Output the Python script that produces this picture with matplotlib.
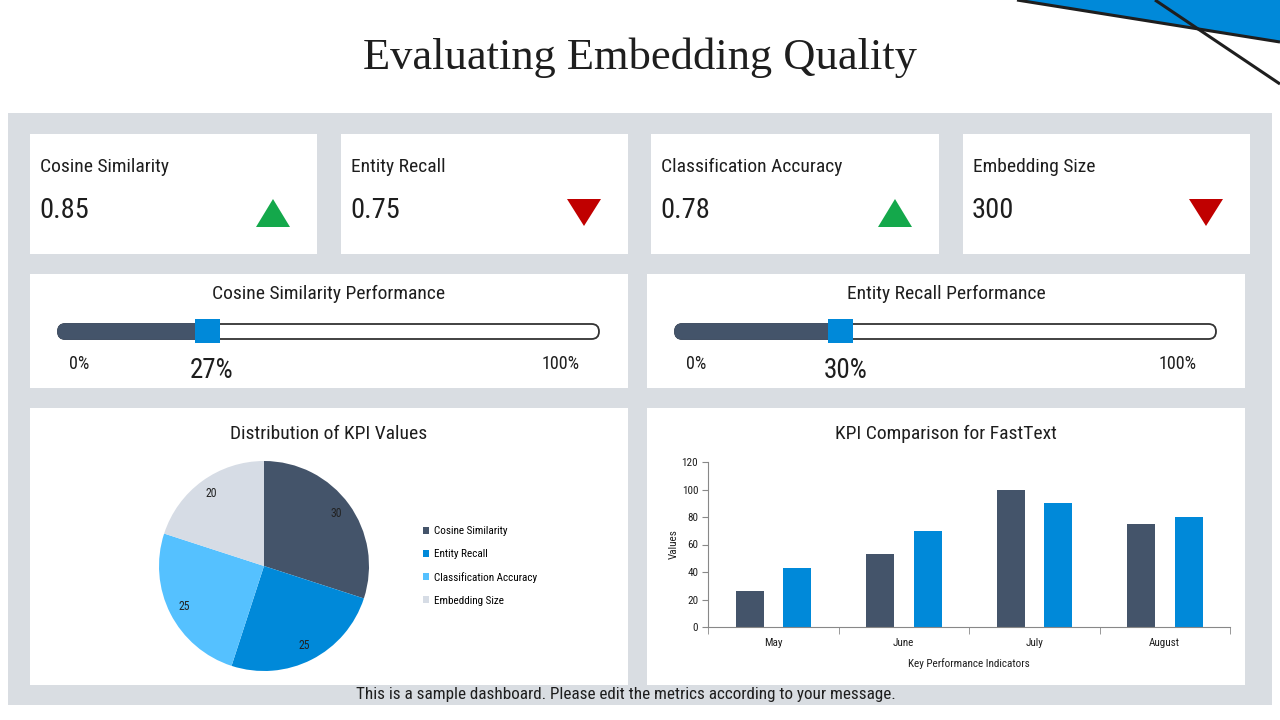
import matplotlib
matplotlib.use("Agg")
import matplotlib.pyplot as plt
from matplotlib import font_manager
from matplotlib.patches import Rectangle, FancyBboxPatch, Polygon
import numpy as np

# ---------------- data ----------------
title = "Evaluating Embedding Quality"
kpi_names = ["Cosine Similarity", "Entity Recall", "Classification Accuracy", "Embedding Size"]
kpi_values = ["0.85", "0.75", "0.78", "300"]
kpi_trend = ["up", "down", "up", "down"]

slider_titles = ["Cosine Similarity Performance", "Entity Recall Performance"]
slider_values = [27, 30]

pie_title = "Distribution of KPI Values"
pie_labels = ["Cosine Similarity", "Entity Recall", "Classification Accuracy", "Embedding Size"]
pie_values = [30, 25, 25, 20]

bar_title = "KPI Comparison for FastText"
bar_months = ["May", "June", "July", "August"]
bar_series_a = [26, 53, 100, 75]
bar_series_b = [43, 70, 90, 80]
bar_yticks = [0, 20, 40, 60, 80, 100, 120]
bar_xlabel = "Key Performance Indicators"
bar_ylabel = "Values"

footer = "This is a sample dashboard. Please edit the metrics according to your message."

# ---------------- style ----------------
DARK = "#44546A"
BLUE = "#0089D9"
LBLUE = "#55C1FF"
LGRAY = "#D6DCE5"
PANEL = "#D9DDE2"
GREEN = "#14A84B"
RED = "#C00000"
TXT = "#1E1E1E"

available = {f.name for f in font_manager.fontManager.ttflist}
SANS = None
for cand in ["Roboto Condensed", "Liberation Sans Narrow", "Open Sans Condensed", "DejaVu Sans Condensed", "Roboto", "DejaVu Sans"]:
    if cand in available:
        SANS = cand
        break
SERIF = "Liberation Serif" if "Liberation Serif" in available else "DejaVu Serif"
plt.rcParams['font.family'] = [SANS, 'DejaVu Sans']

W, H = 1280, 720
fig = plt.figure(figsize=(12.8, 7.2), dpi=100)
fig.patch.set_facecolor("white")
bg = fig.add_axes([0, 0, 1, 1])
bg.set_xlim(0, W)
bg.set_ylim(H, 0)
bg.axis("off")
bg.set_zorder(0)

def ax_at(x0, y0, x1, y1):
    return fig.add_axes([x0 / W, 1 - y1 / H, (x1 - x0) / W, (y1 - y0) / H])

# top-right decoration
bg.add_patch(Polygon([(1017, 0), (1280, 0), (1280, 42)], closed=True, facecolor=BLUE, edgecolor="none"))
bg.plot([1017, 1280], [0, 42], color="#1E1E1E", lw=2.2, solid_capstyle="butt")
bg.plot([1155, 1280], [0, 84], color="#1E1E1E", lw=2.2, solid_capstyle="butt")

# title
bg.text(640, 58, title, fontsize=32, family=SERIF, color=TXT, ha="center", va="center")

# big grey panel
bg.add_patch(Rectangle((8, 113), 1264, 592, facecolor=PANEL, edgecolor="none"))

# KPI cards
card_x = [(30, 317), (341, 628), (651, 939), (963, 1250)]
for (x0, x1), name, val, tr in zip(card_x, kpi_names, kpi_values, kpi_trend):
    bg.add_patch(Rectangle((x0, 134), x1 - x0, 120, facecolor="white", edgecolor="none"))
    bg.text(x0 + 10, 167, name, fontsize=14, color=TXT, ha="left", va="center")
    bg.text(x0 + 9, 211, val, fontsize=20.5, color=TXT, ha="left", va="center")
    cx = x1 - 44
    if tr == "up":
        tri = [(cx - 17, 227), (cx + 17, 227), (cx, 199)]
        col = GREEN
    else:
        tri = [(cx - 17, 199), (cx + 17, 199), (cx, 226)]
        col = RED
    bg.add_patch(Polygon(tri, closed=True, facecolor=col, edgecolor="none"))

# slider panels
slider_panels = [(30, 628), (647, 1245)]
for (x0, x1), stitle, sval in zip(slider_panels, slider_titles, slider_values):
    bg.add_patch(Rectangle((x0, 274), x1 - x0, 114, facecolor="white", edgecolor="none"))
    cx = (x0 + x1) / 2
    bg.text(cx, 294, stitle, fontsize=14, color=TXT, ha="center", va="center")
    tx0, tx1 = x0 + 28, x1 - 29
    ty, th = 324, 15
    bg.add_patch(FancyBboxPatch((tx0, ty), tx1 - tx0, th,
                                boxstyle="round,pad=0,rounding_size=7.5",
                                facecolor="white", edgecolor="#333333", lw=1.3, zorder=2))
    kx = tx0 + 3 + (tx1 - tx0) * sval / 100.0
    bg.add_patch(FancyBboxPatch((tx0, ty), kx - tx0, th,
                                boxstyle="round,pad=0,rounding_size=7.5",
                                facecolor=DARK, edgecolor=DARK, lw=1.3, zorder=3))
    bg.add_patch(Rectangle((kx - 12.5, 319), 25, 24, facecolor=BLUE, edgecolor="none", zorder=4))
    bg.text(tx0 + 21, 364, "0%", fontsize=13, color=TXT, ha="center", va="center")
    bg.text(tx1 - 38, 364, "100%", fontsize=13, color=TXT, ha="center", va="center")
    bg.text(kx + 5, 370, f"{sval}%", fontsize=19.5, color=TXT, ha="center", va="center")

# bottom panels
bg.add_patch(Rectangle((30, 408), 598, 277, facecolor="white", edgecolor="none"))
bg.add_patch(Rectangle((647, 408), 598, 277, facecolor="white", edgecolor="none"))
bg.text(329, 434, pie_title, fontsize=14, color=TXT, ha="center", va="center")
bg.text(946, 434, bar_title, fontsize=14, color=TXT, ha="center", va="center")

# footer
bg.text(626, 694, footer, fontsize=12.3, color=TXT, ha="center", va="center")

# ---------------- pie ----------------
pax = ax_at(159, 461, 369, 671)
total = sum(pie_values)
wedges, _, autotexts = pax.pie(pie_values, colors=[DARK, BLUE, LBLUE, LGRAY], startangle=90,
                               counterclock=False, radius=1.0,
                               autopct=lambda p: f"{round(p * total / 100)}",
                               pctdistance=0.85, wedgeprops=dict(linewidth=0))
for t in autotexts:
    t.set_fontsize(8.5)
    t.set_color("#222222")
pax.set_xlim(-1, 1)
pax.set_ylim(-1, 1)
pax.set_aspect("equal")
pax.patch.set_alpha(0)

leg = fig.legend(wedges, pie_labels, loc="center left",
                 bbox_to_anchor=(417 / W, 1 - 566 / H), frameon=False,
                 fontsize=8, handlelength=0.6, handleheight=0.6, handletextpad=0.45,
                 labelspacing=1.15, borderpad=0)

# ---------------- bars ----------------
bax = ax_at(708, 462, 1230, 627)
x = np.arange(len(bar_months))
bw = 0.215
bax.bar(x - 0.18, bar_series_a, width=bw, color=DARK)
bax.bar(x + 0.185, bar_series_b, width=bw, color=BLUE)
bax.set_xlim(-0.5, len(bar_months) - 0.5)
bax.set_ylim(0, 120)
bax.set_yticks(bar_yticks)
bax.set_xticks(x)
bax.set_xticklabels(bar_months)
bax.set_xticks(np.arange(-0.5, len(bar_months), 1.0), minor=True)
bax.tick_params(axis="x", which="major", length=0, pad=8, labelsize=8, colors=TXT)
bax.tick_params(axis="x", which="minor", length=5, color="#888888", direction="out")
bax.tick_params(axis="y", length=4, color="#888888", labelsize=8, pad=3, labelcolor=TXT)
for s in ["top", "right"]:
    bax.spines[s].set_visible(False)
for s in ["left", "bottom"]:
    bax.spines[s].set_color("#888888")
    bax.spines[s].set_linewidth(0.8)
bax.set_xlabel(bar_xlabel, fontsize=8, color=TXT, labelpad=7)
bax.set_ylabel(bar_ylabel, fontsize=8, color=TXT, labelpad=2)
bax.patch.set_alpha(0)

fig.savefig("out.png", dpi=100, facecolor="white")
